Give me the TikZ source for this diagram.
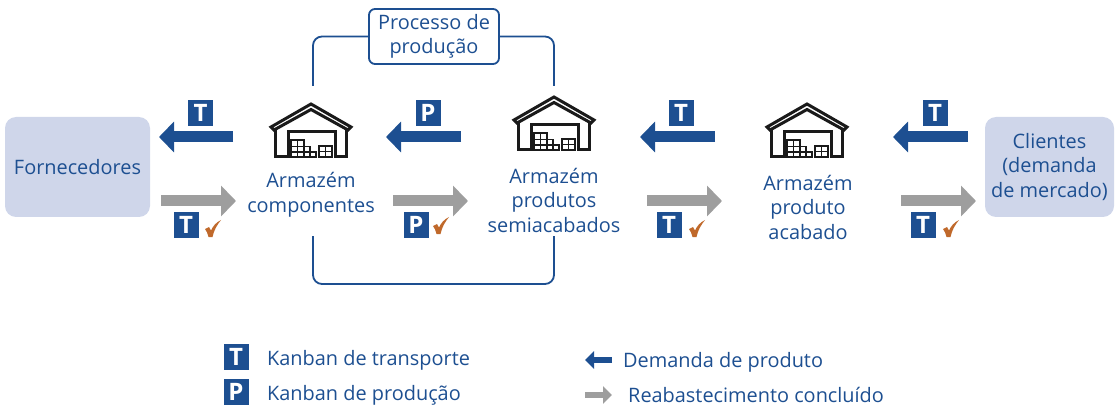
\documentclass[tikz,border=0pt]{standalone}
\usepackage{fontspec}
\setmainfont{Open Sans}
\usetikzlibrary{arrows.meta}
\definecolor{navy}{HTML}{1D4F91}
\definecolor{panel}{HTML}{CFD6EA}
\definecolor{done}{HTML}{9E9E9E}
\definecolor{tick}{HTML}{C0692B}
\definecolor{shed}{HTML}{1A1A1A}

\begin{document}
\begin{tikzpicture}[
  x=1pt, y=-1pt,
  line cap=butt, line join=miter,
  every node/.style={font=\fontsize{19.9}{24.5}\selectfont, text=navy, inner sep=0pt, align=center},
  legend/.style={font=\fontsize{19.9}{22}\selectfont, anchor=west},
  party/.style={fill=panel, rounded corners=11pt, minimum height=100pt},
  badge/.style={fill=navy, minimum width=25pt, minimum height=26pt, text=white, font=\fontsize{24}{24}\selectfont\bfseries},
  loopline/.style={draw=navy, line width=1.8pt, rounded corners=9pt},
  demand/.style={draw=navy, line width=11pt, -{Triangle[length=15pt, width=30pt]}},
  refill/.style={draw=done, line width=11pt, -{Triangle[length=15pt, width=30pt]}},
  keydemand/.style={draw=navy, line width=6.5pt, -{Triangle[length=9pt, width=17pt]}},
  keyrefill/.style={draw=done, line width=6.5pt, -{Triangle[length=9pt, width=17pt]}},
  warehouse/.pic={
    \draw[shed, line width=3pt] (-40,24) -- (0,1) -- (40,24) -- (37,27) -- (0,6.5) -- (-37,27) -- cycle;
    \draw[shed, line width=3pt] (-35.5,27) -- (-35.5,54) -- (-23,54) -- (-23,29) -- (24.5,29) -- (24.5,54) -- (35.5,54) -- (35.5,27);
    \draw[shed, line width=1.2pt]
      (-20,37) rectangle (-13.5,43.5) (-13.5,37) rectangle (-7,43.5)
      (-20,43.5) rectangle (-13.5,49) (-13.5,43.5) rectangle (-7,49) (-7,43.5) rectangle (-1,49)
      (-20,49) rectangle (-13.5,54) (-13.5,49) rectangle (-7,54) (-7,49) rectangle (-1,54) (-1,49) rectangle (5,54)
      (8,43) rectangle (14.5,48.5) (14.5,43) rectangle (21,48.5)
      (8,48.5) rectangle (14.5,54) (14.5,48.5) rectangle (21,54);
  },
  donetick/.pic={
    \fill[tick] (0,9) -- (4,7) -- (6,10.5) .. controls (8,6) and (11,2.5) .. (16,0) .. controls (12,5) and (9,10) .. (7.5,17) -- (3.5,17) .. controls (3,14) and (1.5,11) .. (0,9) -- cycle;
  },
]
\useasboundingbox (0,0) rectangle (1120,417);

\node[party, minimum width=145pt] (suppliers) at (77.5,167) {Fornecedores};
\node[party, minimum width=129pt] (clients) at (1049.5,167) {Clientes\\(demanda\\de mercado)};

\pic at (311,103) {warehouse};
\pic at (554,96) {warehouse};
\pic at (807,103) {warehouse};

\node (compname) at (311,195) {Armazém\\componentes};
\node (seminame) at (554,200) {Armazém\\produtos\\semiacabados};
\node (finalname) at (808,207) {Armazém\\produto\\acabado};

\node[draw=navy, line width=1.8pt, rounded corners=6pt, minimum width=130pt, minimum height=55pt] (prod) at (434,36.5) {Processo de\\produção};
\coordinate (comptop) at (313,86);
\coordinate (semitop) at (554,86);
\coordinate (compbot) at (313,236);
\coordinate (semibot) at (554,236);
\coordinate (loopleft) at (313,284);
\coordinate (loopright) at (554,284);
\draw[loopline] (comptop) |- (prod.west);
\draw[loopline] (semitop) |- (prod.east);
\draw[loopline] (compbot) -- (loopleft) -- (loopright) -- (semibot);

% upper row
\coordinate (a1) at (233,137); \coordinate (b1) at (159,137);
\coordinate (a2) at (461,137); \coordinate (b2) at (386,137);
\coordinate (a3) at (715,137); \coordinate (b3) at (640,137);
\coordinate (a4) at (968,137); \coordinate (b4) at (893,137);
\draw[demand] (a1) -- (b1);
\draw[demand] (a2) -- (b2);
\draw[demand] (a3) -- (b3);
\draw[demand] (a4) -- (b4);
\node[badge] (t1) at (200.5,113) {T};
\node[badge] (p1) at (428,113) {P};
\node[badge] (t2) at (681,113) {T};
\node[badge] (t3) at (935,113) {T};

% lower row
\coordinate (c1) at (161,201); \coordinate (d1) at (236,201);
\coordinate (c2) at (393,201); \coordinate (d2) at (468,201);
\coordinate (c3) at (647,201); \coordinate (d3) at (722,201);
\coordinate (c4) at (901,201); \coordinate (d4) at (976,201);
\draw[refill] (c1) -- (d1);
\draw[refill] (c2) -- (d2);
\draw[refill] (c3) -- (d3);
\draw[refill] (c4) -- (d4);
\node[badge] (t4) at (186,225) {T};
\node[badge] (p2) at (416,225) {P};
\node[badge] (t5) at (669,225) {T};
\node[badge] (t6) at (923,225) {T};
\pic at (205,220) {donetick};
\pic at (433,217) {donetick};
\pic at (689,220) {donetick};
\pic at (943,220) {donetick};

% legend
\node[badge] (keyt) at (236,357) {T};
\node[badge] (keyp) at (236,392) {P};
\node[legend] (keytname) at (267,360) {Kanban de transporte};
\node[legend] (keypname) at (267,395) {Kanban de produção};
\coordinate (e1) at (612,360); \coordinate (f1) at (585,360);
\coordinate (e2) at (585,395); \coordinate (f2) at (612,395);
\draw[keydemand] (e1) -- (f1);
\draw[keyrefill] (e2) -- (f2);
\node[legend] (keydemandname) at (623,362) {Demanda de produto};
\node[legend] (keyrefillname) at (628,395) {Reabastecimento concluído};
\end{tikzpicture}
\end{document}
